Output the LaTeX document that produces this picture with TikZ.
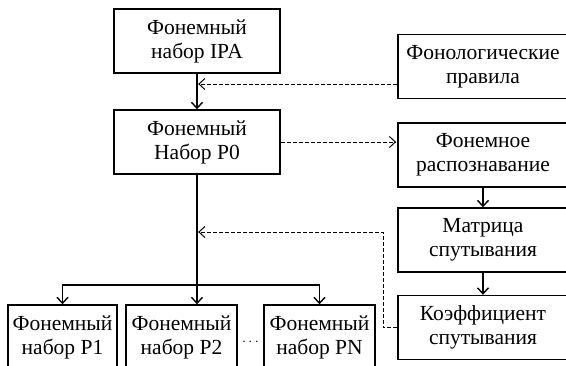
\documentclass[tikz,border=0pt]{standalone}
\usepackage{fontspec}
\setmainfont{Liberation Serif}
\usetikzlibrary{arrows.meta}

\tikzset{
  blok/.style={draw, line width=1.4pt, align=center, inner sep=0pt,
    minimum width=#1, minimum height=64pt,
    font=\fontsize{21.5}{24}\selectfont},
  blok/.default=166pt,
  lijn/.style={line width=1.4pt},
  pijl/.style={lijn, -{Straight Barb[length=6pt,width=11pt,line width=1.4pt]}},
  stip/.style={line width=1pt, dash pattern=on 4pt off 2pt,
    -{Straight Barb[length=6pt,width=11pt,line width=1pt,sep]}}
}

\begin{document}
\begin{tikzpicture}[x=1pt,y=-1pt]

        \useasboundingbox (0,0) rectangle (566,365);
        \clip (0,0) rectangle (566,365);

        \node[blok] (ipa) at (197,41) {Фонемный\\набор IPA};
        \node[blok] (p0) at (197,142) {Фонемный\\Набор P0};

        \node[blok=170pt] (regels) at (483,66.5) {Фонологические\\правила};
        \node[blok=170pt] (herk) at (483,155) {Фонемное\\распознавание};
        \node[blok=170pt] (matrix) at (483,240) {Матрица\\спутывания};
        \node[blok=170pt] (koef) at (483,327.5) {Коэффициент\\спутывания};

        \node[blok=109pt] (p1) at (62.5,337) {Фонемный\\набор P1};
        \node[blok=111pt] (p2) at (181.5,337) {Фонемный\\набор P2};
        \node[blok=111pt] (pn) at (319.5,337) {Фонемный\\набор PN};
        \node[font=\fontsize{14}{16}\selectfont] (puntjes) at (250.5,342) {$\cdots$};

        \coordinate (regel) at (197,84);
        \coordinate (tak) at (197,285);
        \coordinate (hoek) at (383,232);
        \coordinate (terug) at (197,232);

        % hoofdlijn
        \draw[pijl] (ipa) -- (p0);
        \draw[lijn] (p0) -- (tak);
        \draw[pijl] (tak) -- (tak |- p2.north);
        \draw[pijl] (tak) -| (p1);
        \draw[pijl] (tak) -| (pn);

        % rechterkolom
        \draw[pijl] (herk) -- (matrix);
        \draw[pijl] (matrix) -- (koef);

        % gestippeld
        \draw[stip] (regels.west |- regel) -- (regel);
        \draw[stip] (p0.east) -- (p0.east -| herk.west);
        \draw[stip] (koef.west) -| (hoek) -- (terug);

\end{tikzpicture}
\end{document}
